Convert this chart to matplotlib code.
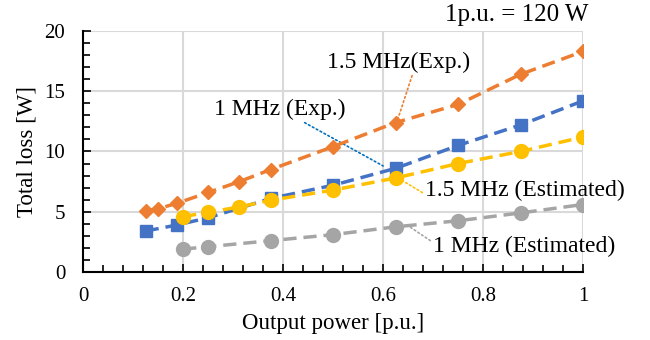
import numpy as np
import matplotlib
matplotlib.use("Agg")
import matplotlib.pyplot as plt
from matplotlib.ticker import MultipleLocator

plt.rcParams['font.family'] = ['Liberation Serif', 'DejaVu Serif']

# data (output power in p.u., loss in W)
x_15exp = [0.125, 0.15, 0.1875, 0.25, 0.3125, 0.375, 0.5, 0.625, 0.75, 0.875, 1.0]
y_15exp = [5.1, 5.25, 5.7, 6.6, 7.5, 8.5, 10.4, 12.4, 13.9, 16.4, 18.3]

x_1exp = [0.125, 0.1875, 0.25, 0.375, 0.5, 0.625, 0.75, 0.875, 1.0]
y_1exp = [3.4, 3.9, 4.5, 6.1, 7.2, 8.6, 10.5, 12.2, 14.2]

x_15est = [0.2, 0.25, 0.3125, 0.375, 0.5, 0.625, 0.75, 0.875, 1.0]
y_15est = [4.6, 4.95, 5.4, 5.95, 6.8, 7.8, 9.0, 10.0, 11.2]

x_1est = [0.2, 0.25, 0.375, 0.5, 0.625, 0.75, 0.875, 1.0]
y_1est = [1.9, 2.1, 2.6, 3.1, 3.75, 4.25, 4.9, 5.6]

orange = '#ED7D31'
blue = '#4472C4'
yellow = '#FFC000'
gray = '#A5A5A5'

fig = plt.figure(figsize=(6.5, 3.4), dpi=100)
ax = fig.add_axes([0.128, 0.2, 0.769, 0.709])

dash = (3.8, 2)
ax.plot(x_1est, y_1est, '--', color=gray, lw=2.5, dashes=dash,
        marker='o', ms=10, zorder=3)
ax.plot(x_1exp, y_1exp, '--', color=blue, lw=2.5, dashes=dash,
        marker='s', ms=9, zorder=4)
ax.plot(x_15est, y_15est, '--', color=yellow, lw=2.5, dashes=dash,
        marker='o', ms=10, zorder=5)
ax.plot(x_15exp, y_15exp, '--', color=orange, lw=2.5, dashes=dash,
        marker='D', ms=7.5, zorder=6)

ax.set_xlim(0, 1)
ax.set_ylim(0, 20)
ax.xaxis.set_major_locator(MultipleLocator(0.2))
ax.xaxis.set_minor_locator(MultipleLocator(0.04))
ax.yaxis.set_major_locator(MultipleLocator(5))
ax.yaxis.set_minor_locator(MultipleLocator(1))
ax.xaxis.set_major_formatter(plt.FuncFormatter(lambda v, p: ('%g' % round(v, 2))))

ax.tick_params(which='both', direction='in', labelsize=15, width=1.2)
ax.tick_params(which='major', length=6)
ax.tick_params(which='minor', length=5)
ax.tick_params(axis='x', pad=11)
ax.tick_params(axis='y', pad=13)

ax.grid(True, which='major', color='#D9D9D9', lw=1.5, zorder=0)
ax.set_axisbelow(True)
for s in ['top', 'right']:
    ax.spines[s].set_visible(False)
for s in ['left', 'bottom']:
    ax.spines[s].set_linewidth(1.5)
    ax.spines[s].set_zorder(7)

ax.set_xlabel('Output power [p.u.]', fontsize=16.5, labelpad=5)
ax.set_ylabel('Total loss [W]', fontsize=16.5, labelpad=5)

# leader labels
fs = 17
ax.annotate('1.5 MHz(Exp.)', xy=(0.628, 12.5), xytext=(0.488, 17.4),
            fontsize=fs, va='center',
            arrowprops=dict(arrowstyle='-', color=orange, ls=':', lw=1.2,
                            shrinkA=0, shrinkB=0, relpos=(0.6, 0)))
ax.annotate('1 MHz (Exp.)', xy=(0.6, 8.8), xytext=(0.262, 13.5),
            fontsize=fs, va='center',
            arrowprops=dict(arrowstyle='-', color='#0070C0', ls=':', lw=1.2,
                            shrinkA=0, shrinkB=0, relpos=(0.65, 0)))
ax.annotate('1.5 MHz (Estimated)', xy=(0.63, 7.8), xytext=(0.684, 6.8),
            fontsize=fs, va='center',
            arrowprops=dict(arrowstyle='-', color=yellow, ls=':', lw=1.2,
                            shrinkA=0, shrinkB=0, relpos=(0, 0.3)))
ax.annotate('1 MHz (Estimated)', xy=(0.655, 3.7), xytext=(0.70, 2.1),
            fontsize=fs, va='center',
            arrowprops=dict(arrowstyle='-', color=gray, ls=':', lw=1.2,
                            shrinkA=0, shrinkB=0, relpos=(0, 0.7)))

fig.text(0.685, 0.955, '1p.u. = 120 W', fontsize=18, va='center')

fig.savefig('out.png', dpi=100)
